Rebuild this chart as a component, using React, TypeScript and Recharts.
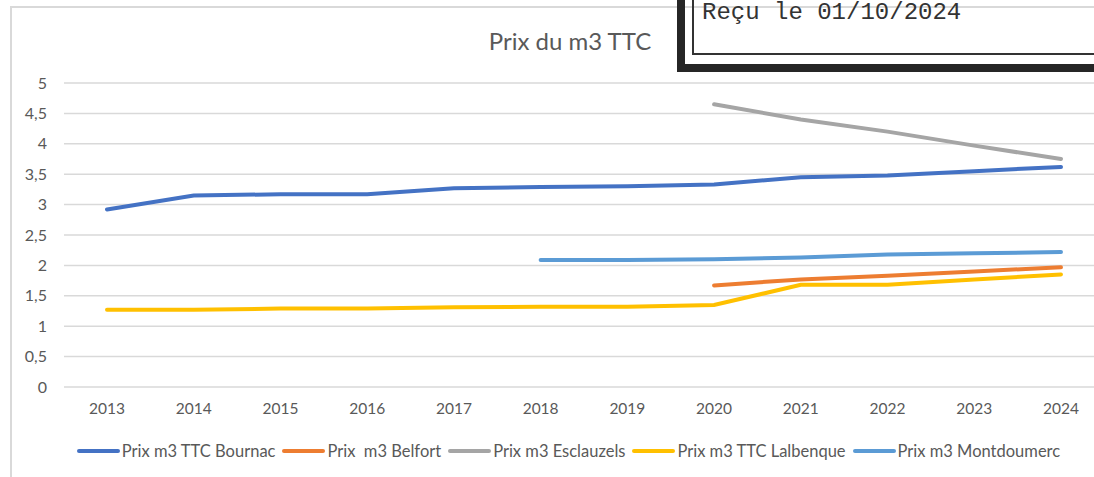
import { LineChart, Line, XAxis, YAxis, CartesianGrid } from 'recharts';

const years = ['2013', '2014', '2015', '2016', '2017', '2018', '2019', '2020', '2021', '2022', '2023', '2024'];
const bournac = [2.92, 3.15, 3.17, 3.17, 3.27, 3.29, 3.3, 3.33, 3.45, 3.48, 3.55, 3.62];
const belfort = [null, null, null, null, null, null, null, 1.67, 1.77, 1.83, 1.9, 1.97];
const esclauzels = [null, null, null, null, null, null, null, 4.65, 4.4, 4.2, 3.97, 3.75];
const lalbenque = [1.27, 1.27, 1.29, 1.29, 1.31, 1.32, 1.32, 1.35, 1.68, 1.68, 1.77, 1.85];
const montdoumerc = [null, null, null, null, null, 2.09, 2.09, 2.1, 2.13, 2.18, 2.2, 2.22];
const yTicks = [0, 0.5, 1, 1.5, 2, 2.5, 3, 3.5, 4, 4.5, 5];

const series = [
  { key: 'bournac', label: 'Prix m3 TTC Bournac', color: '#4472C4', values: bournac },
  { key: 'belfort', label: 'Prix  m3 Belfort', color: '#ED7D31', values: belfort },
  { key: 'esclauzels', label: 'Prix m3 Esclauzels', color: '#A5A5A5', values: esclauzels },
  { key: 'lalbenque', label: 'Prix m3 TTC Lalbenque', color: '#FFC000', values: lalbenque },
  { key: 'montdoumerc', label: 'Prix m3 Montdoumerc', color: '#5B9BD5', values: montdoumerc },
];

const data = years.map((year, i) => {
  const row: Record<string, string | number | null> = { year };
  series.forEach(s => { row[s.key] = s.values[i]; });
  return row;
});

const font = 'Lato, "Noto Sans", sans-serif';
const textColor = '#595959';

const App = () => {
  return (
    <div style={{ position: 'absolute', left: 0, top: 0, width: 1094, height: 477, overflow: 'hidden', background: '#fff', fontFamily: font }}>
      {/* chart frame */}
      <div style={{ position: 'absolute', left: 10, top: 6, width: 1200, height: 600, borderLeft: '2px solid #D9D9D9', borderTop: '2px solid #D9D9D9' }} />

      <div style={{ position: 'absolute', left: 0, top: 0 }}>
        <LineChart width={1120} height={477} data={data} margin={{ top: 83, right: 16, bottom: 60, left: 0 }}>
          <CartesianGrid vertical={false} stroke="#D9D9D9" strokeWidth={1.5} />
          <XAxis
            dataKey="year"
            axisLine={false}
            tickLine={false}
            tickSize={0}
            tickMargin={16}
            height={30}
            padding={{ left: 43, right: 43 }}
            tick={{ fill: textColor, fontSize: 15.5, fontFamily: font }}
            interval={0}
          />
          <YAxis
            domain={[0, 5]}
            ticks={yTicks}
            width={64}
            axisLine={false}
            tickLine={false}
            tickSize={0}
            tickMargin={17}
            tick={{ fill: textColor, fontSize: 16, fontFamily: font }}
            tickFormatter={(v: number) => String(v).replace('.', ',')}
          />
          {series.map(s => (
            <Line
              key={s.key}
              type="linear"
              dataKey={s.key}
              stroke={s.color}
              strokeWidth={4}
              strokeLinecap="round"
              dot={false}
              activeDot={false}
              isAnimationActive={false}
            />
          ))}
        </LineChart>
      </div>

      {/* title */}
      <div style={{ position: 'absolute', left: 370, width: 400, top: 26, textAlign: 'center', fontSize: 24, lineHeight: '30px', color: textColor }}>
        Prix du m3 TTC
      </div>

      {/* legend */}
      <div style={{ position: 'absolute', left: 0, width: 1144, top: 441, display: 'flex', justifyContent: 'center', fontSize: 16.5, lineHeight: '20px', color: textColor }}>
        {series.map(s => (
          <div key={s.key} style={{ display: 'flex', alignItems: 'center', marginRight: 7 }}>
            <span style={{ display: 'inline-block', width: 43, height: 4, borderRadius: 2, background: s.color, marginRight: 2 }} />
            <span style={{ whiteSpace: 'pre' }}>{s.label}</span>
          </div>
        ))}
      </div>

      {/* stamp */}
      <div style={{ position: 'absolute', left: 677, top: -20, width: 500, height: 84, borderLeft: '8px solid #262626', borderBottom: '8px solid #262626' }} />
      <div style={{ position: 'absolute', left: 692, top: -20, width: 500, height: 73, borderLeft: '2px solid #333', borderBottom: '2px solid #333' }} />
      <div style={{ position: 'absolute', left: 702, top: 1, fontFamily: '"Liberation Mono", "DejaVu Sans Mono", monospace', fontSize: 24, lineHeight: '24px', color: '#333', whiteSpace: 'pre' }}>
        Reçu le 01/10/2024
      </div>
    </div>
  );
};

export default App;
